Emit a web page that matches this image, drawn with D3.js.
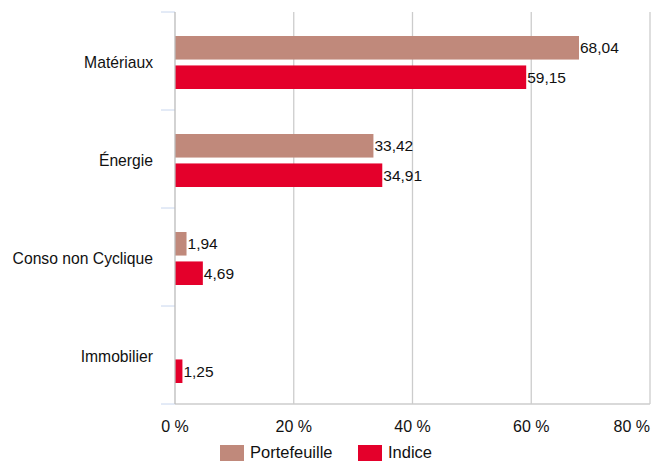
<!DOCTYPE html>
<html>
<head>
<meta charset="utf-8">
<script src="https://cdn.jsdelivr.net/npm/d3@7"></script>
<style>
  body { margin: 0; background: #fff; }
  text { font-family: "Liberation Sans", Arial, sans-serif; }
</style>
</head>
<body>
<svg id="chart" width="652" height="463"></svg>
<script>
const categories = ["Matériaux", "Énergie", "Conso non Cyclique", "Immobilier"];
const portefeuille = [68.04, 33.42, 1.94, null];
const indice = [59.15, 34.91, 4.69, 1.25];
const seriesNames = ["Portefeuille", "Indice"];
const xTicks = [0, 20, 40, 60, 80];

const colors = { Portefeuille: "#c0897b", Indice: "#e4002b" };

const svg = d3.select("#chart");
const margin = { left: 175, right: 2, top: 12, bottom: 59 };
const width = 652, height = 463;

const x = d3.scaleLinear().domain([0, 80]).range([margin.left, width - margin.right]);
const y = d3.scaleBand().domain(categories).range([margin.top, height - margin.bottom]);
const inner = d3.scaleBand().domain(seriesNames).range([24, 77]).paddingInner(0.2);

const fmt = v => v.toFixed(2).replace(".", ",");

// gridlines
svg.append("g").selectAll("line")
  .data(xTicks.slice(1)).join("line")
  .attr("x1", d => x(d)).attr("x2", d => x(d))
  .attr("y1", margin.top).attr("y2", height - margin.bottom)
  .attr("stroke", "#cccccc").attr("stroke-width", 1.3);

// category separator ticks
const seps = categories.map(c => y(c)).concat([height - margin.bottom]);
svg.append("g").selectAll("line")
  .data(seps).join("line")
  .attr("x1", 161).attr("x2", x(0))
  .attr("y1", d => d).attr("y2", d => d)
  .attr("stroke", "#c8d6ee").attr("stroke-width", 1);

// bottom line
svg.append("line")
  .attr("x1", x(0)).attr("x2", width - margin.right)
  .attr("y1", height - margin.bottom).attr("y2", height - margin.bottom)
  .attr("stroke", "#cccccc").attr("stroke-width", 1.3);

// bars
const rows = [];
categories.forEach((c, i) => {
  rows.push({ cat: c, s: "Portefeuille", v: portefeuille[i] });
  rows.push({ cat: c, s: "Indice", v: indice[i] });
});
const data = rows.filter(d => d.v != null);

svg.append("g").selectAll("rect")
  .data(data).join("rect")
  .attr("x", x(0))
  .attr("y", d => y(d.cat) + inner(d.s))
  .attr("width", d => x(d.v) - x(0))
  .attr("height", inner.bandwidth())
  .attr("fill", d => colors[d.s]);

svg.append("g").selectAll("text")
  .data(data).join("text")
  .attr("x", d => x(d.v) + 1)
  .attr("y", d => y(d.cat) + inner(d.s) + inner.bandwidth() / 2)
  .attr("dy", "0.35em")
  .attr("font-size", 15.5)
  .attr("fill", "#111")
  .text(d => fmt(d.v));

// y axis line
svg.append("line")
  .attr("x1", x(0)).attr("x2", x(0))
  .attr("y1", margin.top).attr("y2", height - margin.bottom)
  .attr("stroke", "#bbbbbb").attr("stroke-width", 1.3);

// category labels
svg.append("g").selectAll("text")
  .data(categories).join("text")
  .attr("x", 153)
  .attr("y", d => y(d) + 56)
  .attr("text-anchor", "end")
  .attr("font-size", 15.7)
  .attr("fill", "#111")
  .text(d => d);

// x tick labels (last one kept inside the frame)
svg.append("g").selectAll("text")
  .data(xTicks).join("text")
  .attr("x", (d, i) => i === xTicks.length - 1 ? width - 2 : x(d))
  .attr("y", 432)
  .attr("text-anchor", (d, i) => i === xTicks.length - 1 ? "end" : "middle")
  .attr("font-size", 16)
  .attr("fill", "#111")
  .text(d => d + " %");

// legend
const legend = svg.append("g");
const legX = [220, 358];
seriesNames.forEach((s, i) => {
  legend.append("rect")
    .attr("x", legX[i]).attr("y", 445)
    .attr("width", 24).attr("height", 16)
    .attr("fill", colors[s]);
  legend.append("text")
    .attr("x", legX[i] + 30).attr("y", 458)
    .attr("font-size", 16.5)
    .attr("fill", "#111")
    .text(s);
});
</script>
</body>
</html>
